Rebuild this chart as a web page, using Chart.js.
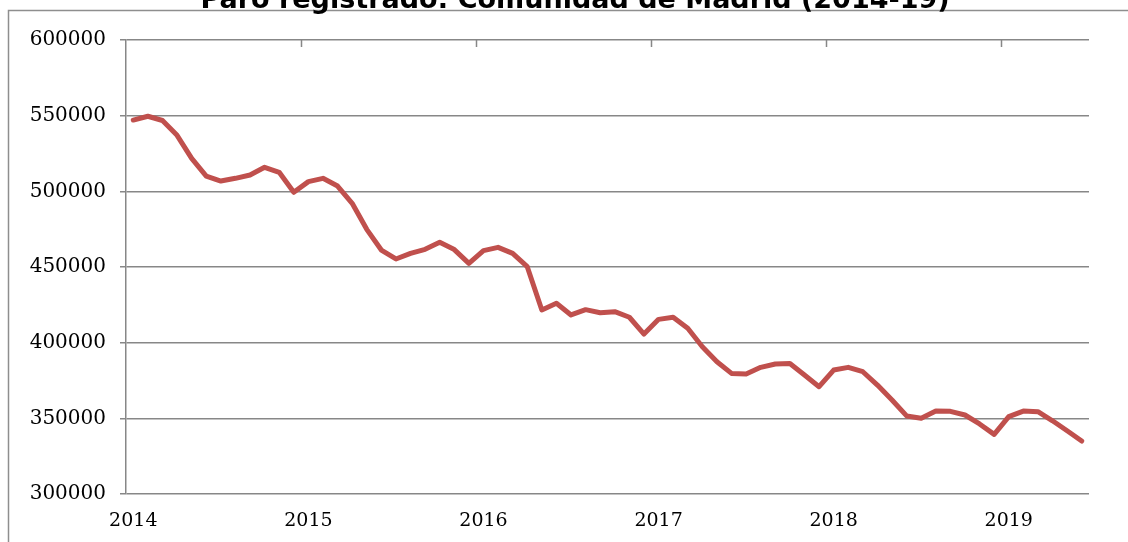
<!DOCTYPE html>
<html>
<head>
<meta charset="utf-8">
<script src="https://cdn.jsdelivr.net/npm/chart.js@4"></script>
<style>
  html, body { margin: 0; padding: 0; background: #fff; overflow: hidden; }
  #wrap { width: 1128px; height: 542px; position: relative; }
</style>
</head>
<body>
<div id="wrap"><canvas id="paroChart"></canvas></div>
<script>
// Paro registrado, Comunidad de Madrid, mensual (ene 2014 - jun 2019)
const years = ['2014', '2015', '2016', '2017', '2018', '2019'];
const paro2014 = [547100, 549600, 546800, 537000, 521800, 510100, 506800, 508600, 510800, 515900, 512600, 499400];
const paro2015 = [506400, 508600, 503500, 492100, 474900, 461200, 455300, 459000, 461700, 466300, 461500, 452400];
const paro2016 = [460800, 463000, 459000, 450200, 421600, 426000, 418300, 421800, 419800, 420500, 416800, 405700];
const paro2017 = [415400, 416800, 409500, 397300, 387400, 379700, 379300, 383700, 385900, 386200, 378600, 370900];
const paro2018 = [381900, 383700, 380800, 372000, 362100, 351600, 350000, 354800, 354600, 352200, 346300, 339400];
const paro2019 = [351100, 354800, 354400, 348400, 341800, 335000];
const yTicks = [300000, 350000, 400000, 450000, 500000, 550000, 600000];

const chartTitle = 'Paro registrado: Comunidad de Madrid (2014-19)';

const series = [paro2014, paro2015, paro2016, paro2017, paro2018, paro2019];
const values = [].concat(...series);
const labels = [];
series.forEach(function (arr, i) {
    arr.forEach(function (v, m) { labels.push(m === 0 ? years[i] : ''); });
});

const gridGray = '#878787';

// marco, título recortado y marcas de año arriba
const decorations = {
    id: 'decorations',
    afterDraw(chart) {
        const ctx = chart.ctx;
        const area = chart.chartArea;
        const x = chart.scales.x;
        ctx.save();
        // ticks en el borde superior, entre diciembre y enero
        ctx.strokeStyle = gridGray;
        ctx.lineWidth = 1.5;
        const half = (x.getPixelForValue(1) - x.getPixelForValue(0)) / 2;
        for (let i = 12; i < values.length; i += 12) {
            const px = Math.round(x.getPixelForValue(i) - half) + 0.5;
            ctx.beginPath();
            ctx.moveTo(px, area.top);
            ctx.lineTo(px, area.top + 7);
            ctx.stroke();
        }
        // marco del gráfico
        ctx.strokeStyle = '#8e8e8e';
        ctx.lineWidth = 1.5;
        ctx.beginPath();
        ctx.moveTo(8.5, chart.height);
        ctx.lineTo(8.5, 10.5);
        ctx.lineTo(chart.width, 10.5);
        ctx.stroke();
        // título
        ctx.fillStyle = '#000';
        ctx.font = 'bold 27px "DejaVu Sans"';
        ctx.textAlign = 'center';
        ctx.textBaseline = 'alphabetic';
        ctx.fillText(chartTitle, 575, 8);
        ctx.restore();
    }
};

new Chart(document.getElementById('paroChart').getContext('2d'), {
    type: 'line',
    data: {
        labels: labels,
        datasets: [{
            label: 'Paro registrado',
            data: values,
            borderColor: '#C0504D',
            backgroundColor: '#C0504D',
            borderWidth: 5,
            borderJoinStyle: 'round',
            borderCapStyle: 'round',
            pointRadius: 0,
            tension: 0,
            fill: false
        }]
    },
    options: {
        responsive: true,
        maintainAspectRatio: false,
        animation: false,
        layout: { padding: { top: 40, right: 39, bottom: 0, left: 0 } },
        plugins: {
            legend: { display: false },
            title: { display: false },
            tooltip: { enabled: false }
        },
        scales: {
            x: {
                offset: true,
                afterFit: function (s) { s.height = 48; },
                grid: { display: false },
                border: { display: false },
                ticks: {
                    autoSkip: false,
                    maxRotation: 0,
                    padding: 8,
                    color: '#000',
                    font: { family: 'DejaVu Serif', size: 19 }
                }
            },
            y: {
                min: 300000,
                max: 600000,
                afterFit: function (s) { s.width = 126; },
                afterBuildTicks: function (s) { s.ticks = yTicks.map(function (v) { return { value: v }; }); },
                grid: { color: gridGray, lineWidth: 1.5, tickLength: 6 },
                border: { display: true, color: gridGray, width: 1.5 },
                ticks: {
                    padding: 14,
                    color: '#000',
                    font: { family: 'DejaVu Serif', size: 20 },
                    callback: function (v) { return String(v); }
                }
            }
        }
    },
    plugins: [decorations]
});
</script>
</body>
</html>
